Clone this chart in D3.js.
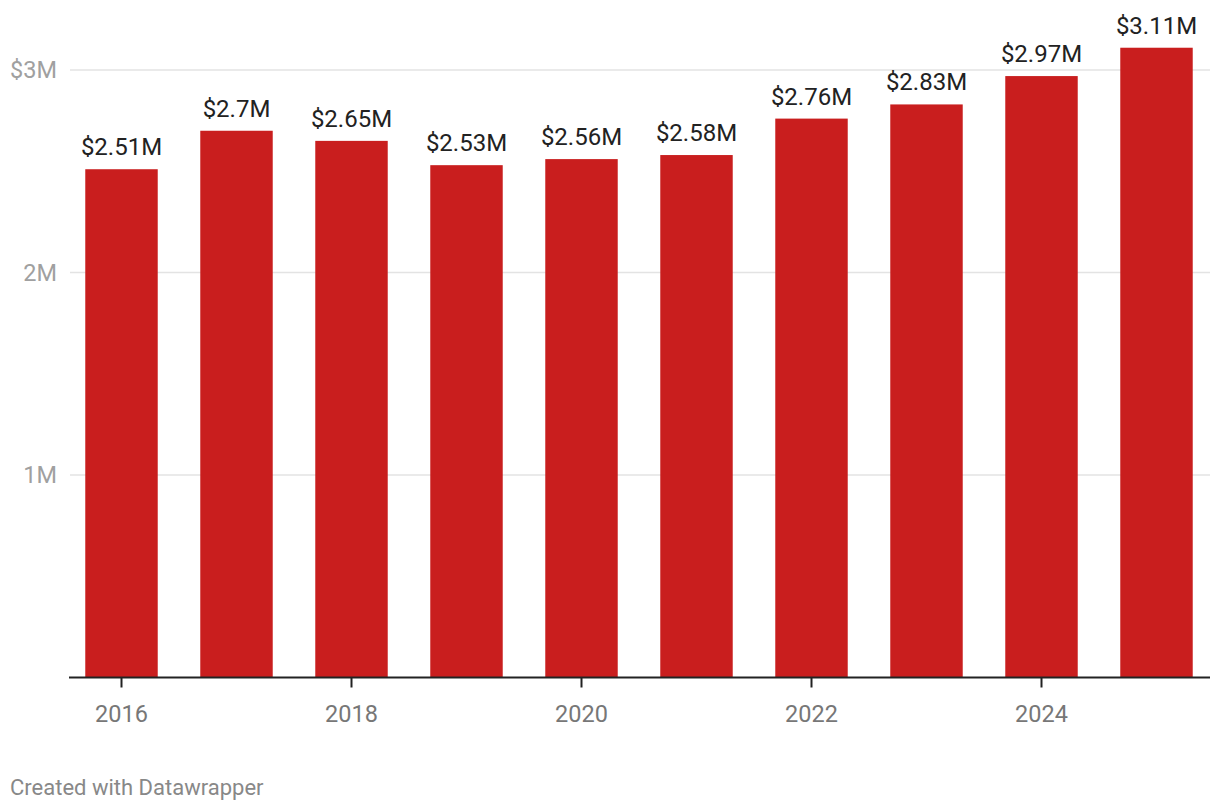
<!DOCTYPE html>
<html><head><meta charset="utf-8">
<script src="https://cdn.jsdelivr.net/npm/d3@7"></script>
<style>
body{margin:0;background:#fff;font-family:Roboto,sans-serif;}
</style></head>
<body><svg id="c" width="1220" height="810"></svg>
<script>
const years = ["2016","2017","2018","2019","2020","2021","2022","2023","2024","2025"];
const values = [2.51, 2.7, 2.65, 2.53, 2.56, 2.58, 2.76, 2.83, 2.97, 3.11];
const labels = ["$2.51M","$2.7M","$2.65M","$2.53M","$2.56M","$2.58M","$2.76M","$2.83M","$2.97M","$3.11M"];
const yTicks = [1, 2, 3];
const yTickLabels = ["1M","2M","$3M"];
const xTickYears = ["2016","2018","2020","2022","2024"];

const svg = d3.select("#c");
const x = d3.scaleBand().domain(years).range([64,1214]).paddingInner(0.37).paddingOuter(0.185);
const y = d3.scaleLinear().domain([0,3]).range([677.5,70]);

// gridlines
svg.append("g").selectAll("line").data(yTicks).join("line")
  .attr("x1",70).attr("x2",1210)
  .attr("y1",d=>y(d)).attr("y2",d=>y(d))
  .attr("stroke","#e3e3e3").attr("stroke-width",1.5);
svg.append("g").selectAll("text").data(yTicks).join("text")
  .attr("x",57).attr("y",d=>y(d)).attr("dy","0.35em")
  .attr("text-anchor","end").attr("fill","#a0a0a0")
  .style("font-size","23.5px").text((d,i)=>yTickLabels[i]);

// bars
svg.append("g").selectAll("rect").data(values).join("rect")
  .attr("x",(d,i)=>x(years[i])).attr("width",x.bandwidth())
  .attr("y",d=>y(d)).attr("height",d=>y(0)-y(d))
  .attr("fill","#c91e1e");

// value labels
svg.append("g").selectAll("text").data(values).join("text")
  .attr("x",(d,i)=>x(years[i])+x.bandwidth()/2).attr("y",d=>y(d)-14)
  .attr("text-anchor","middle").attr("fill","#222")
  .style("font-size","24px").text((d,i)=>labels[i]);

// x axis
const xAxis = d3.axisBottom(x).tickValues(xTickYears).tickSize(10).tickSizeOuter(0);
const gx = svg.append("g").attr("transform",`translate(0,${y(0)})`).call(xAxis);
gx.select(".domain").attr("d","M69,0H1210").attr("stroke","#222").attr("stroke-width",2);
gx.selectAll(".tick line").attr("stroke","#222").attr("stroke-width",2);
gx.selectAll(".tick text").attr("fill","#777").attr("y",44).attr("dy","0")
  .style("font-size","23.5px").style("font-family","Roboto,sans-serif");

svg.append("text").attr("x",10).attr("y",795).attr("fill","#888")
  .style("font-size","22px").text("Created with Datawrapper");
</script></body></html>
